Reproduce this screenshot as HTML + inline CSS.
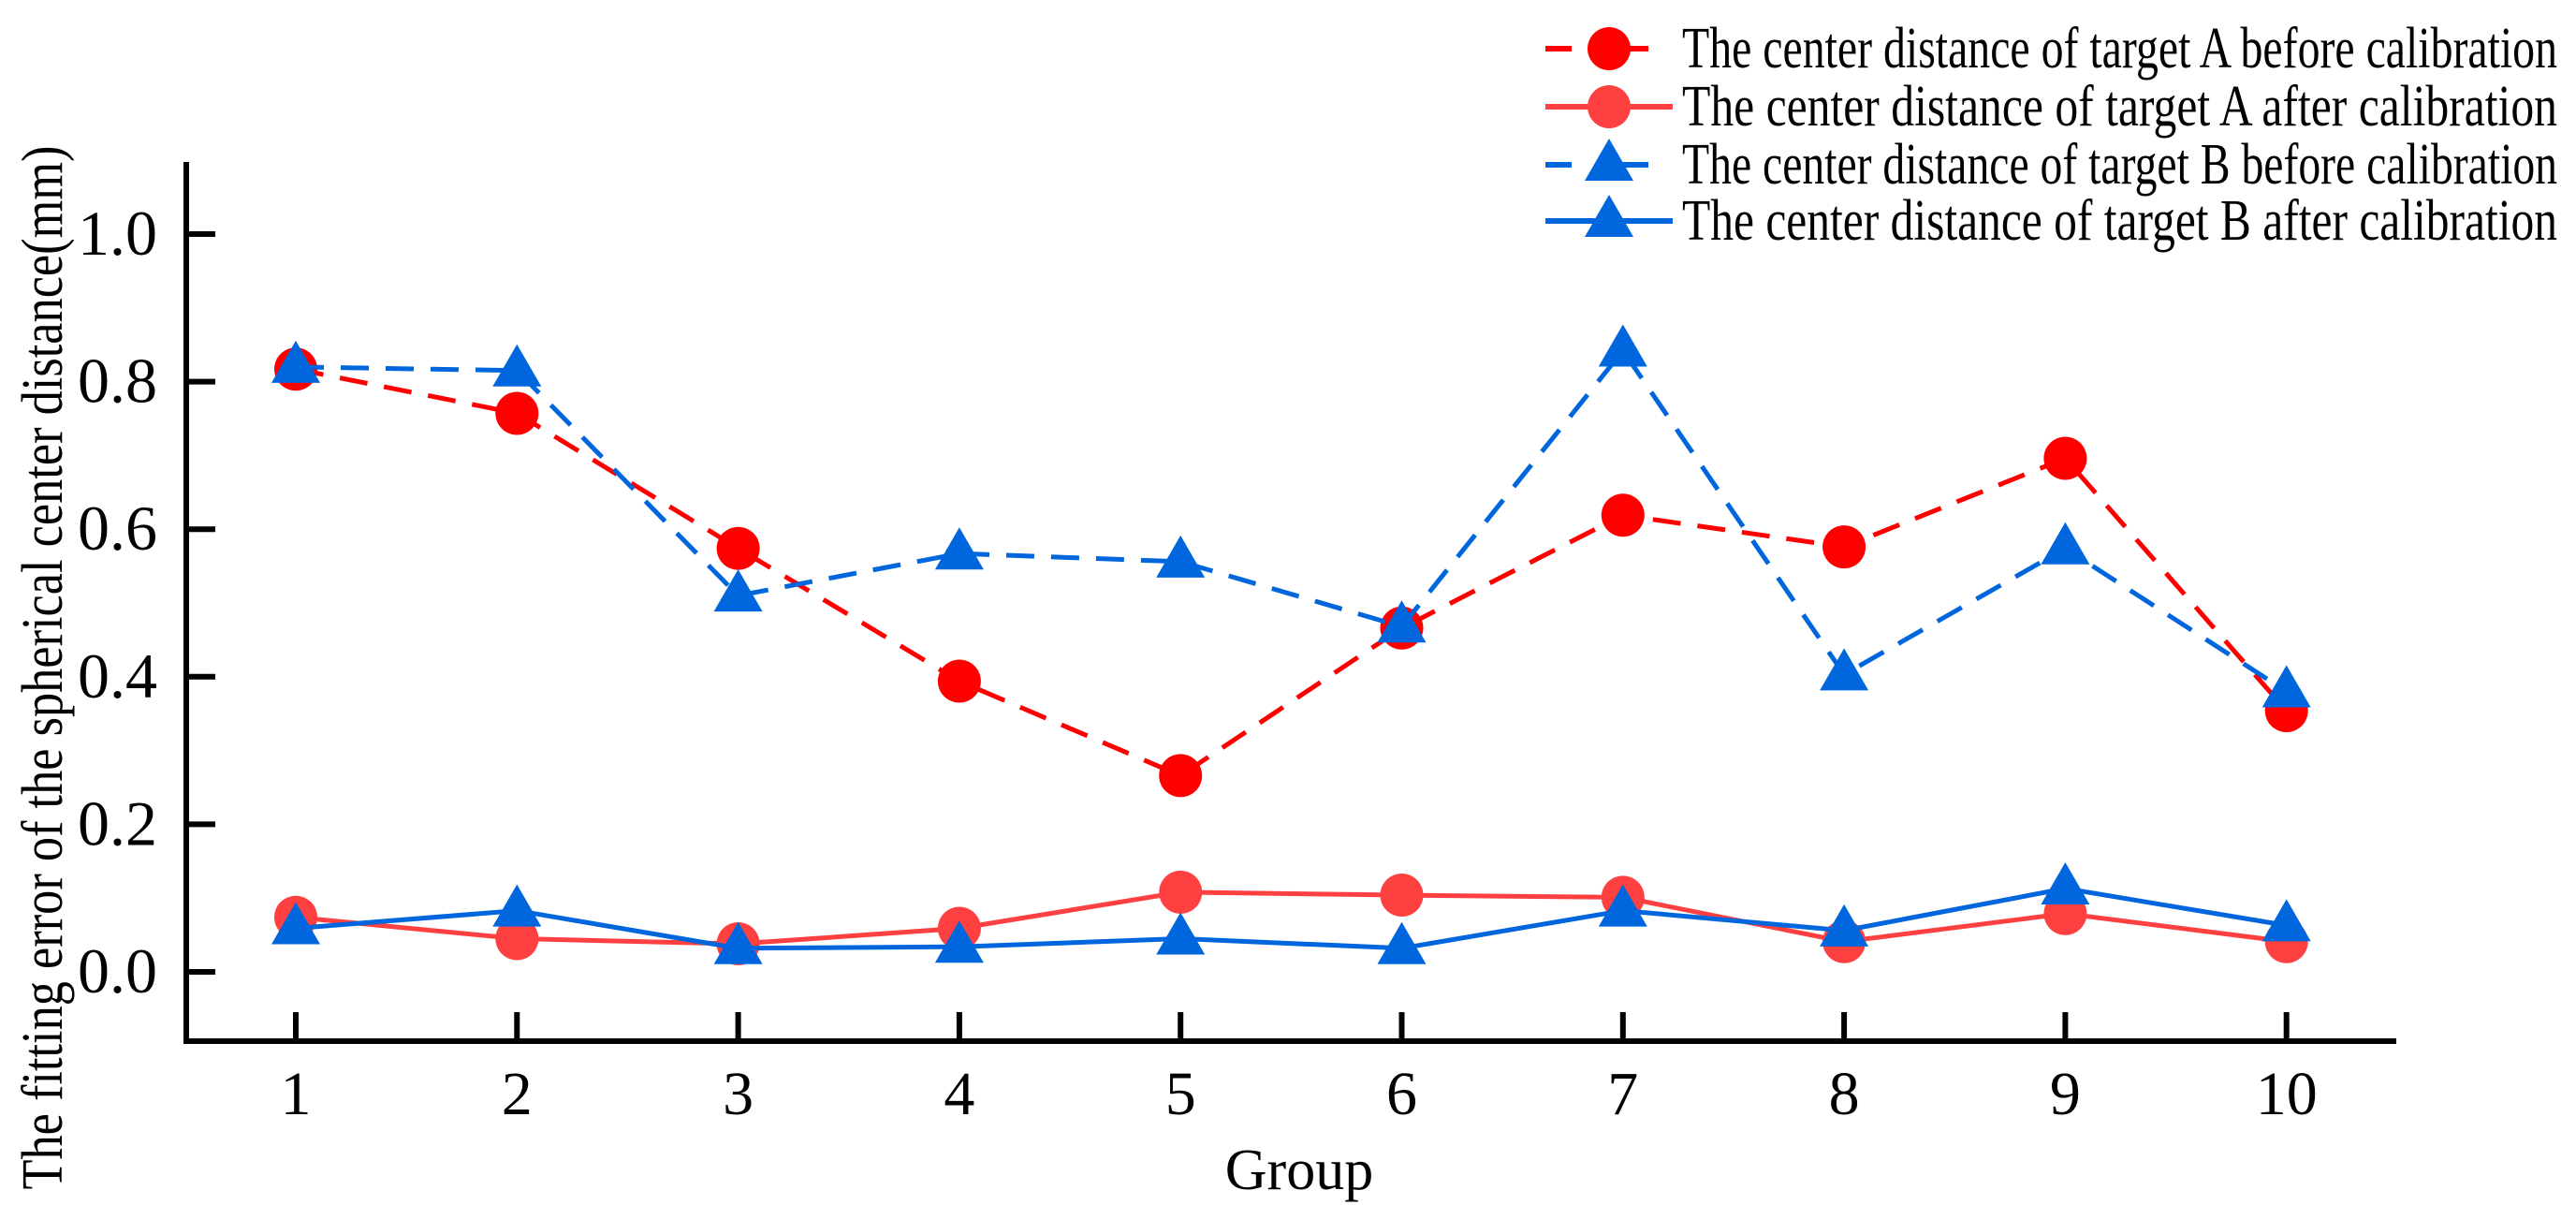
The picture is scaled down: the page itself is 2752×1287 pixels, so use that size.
<!DOCTYPE html>
<html><head><meta charset="utf-8"><style>
html,body{margin:0;padding:0;background:#fff;}
svg{display:block;font-family:"Liberation Serif",serif;}
</style></head><body>
<svg id="chart" width="2752" height="1287" viewBox="0 0 2752 1287" xmlns="http://www.w3.org/2000/svg">
<g id="axes"></g>
<g id="series"></g>
<g id="legend"></g>
<text x="1388" y="1270" font-size="62" text-anchor="middle">Group</text>
<text transform="translate(66,713) rotate(-90)" font-size="62" text-anchor="middle" textLength="1115" lengthAdjust="spacingAndGlyphs">The fitting error of the spherical center distance(mm)</text>
</svg>
<script>
const categories = [1,2,3,4,5,6,7,8,9,10];
const yTicks = [0.0,0.2,0.4,0.6,0.8,1.0];
const yTickLabels = ["0.0","0.2","0.4","0.6","0.8","1.0"];
const aBefore = [0.817,0.757,0.574,0.394,0.266,0.466,0.619,0.576,0.696,0.354];
const aAfter = [0.074,0.045,0.038,0.059,0.108,0.104,0.101,0.041,0.079,0.041];
const bBefore = [0.82,0.815,0.51,0.567,0.556,0.468,0.842,0.403,0.574,0.38];
const bAfter = [0.059,0.083,0.032,0.034,0.045,0.032,0.083,0.056,0.113,0.063];
const seriesNames = ["The center distance of target A before calibration","The center distance of target A after calibration","The center distance of target B before calibration","The center distance of target B after calibration"];

const NS="http://www.w3.org/2000/svg";
function xs(c){return 316+(c-1)*236.3;}
function ys(v){return 1038-v*788;}
function mk(tag,attrs,parent){const e=document.createElementNS(NS,tag);for(const k in attrs)e.setAttribute(k,attrs[k]);parent.appendChild(e);return e;}
const axes=document.getElementById('axes');
let l=mk('path',{d:'M199,173 V1112 H2560',fill:'none',stroke:'#000','stroke-width':6},axes);


yTicks.forEach((t,i)=>{
  const y=ys(t);
  const tk=mk('line',{x1:199,x2:230,y1:y,y2:y,stroke:'#000','stroke-width':6},axes);
  
  
  const tx=mk('text',{x:168,y:y+22,'font-size':68,'text-anchor':'end'},axes);
  tx.textContent=yTickLabels[i];
  
  
});
categories.forEach(c=>{
  const x=xs(c);
  const tk=mk('line',{x1:x,x2:x,y1:1112,y2:1081,stroke:'#000','stroke-width':6},axes);
  
  
  const tx=mk('text',{x:x,y:1190,'font-size':66,'text-anchor':'middle'},axes);
  tx.textContent=String(c);
  
  
});
const ser=document.getElementById('series');
function circle(x,y,color,p){return mk('ellipse',{cx:x,cy:y,rx:23,ry:23,fill:color},p);}
function tri(x,y,color,p){return mk('path',{d:`M${x},${y-28} L${x+26},${y+17} L${x-26},${y+17} Z`,fill:color},p);}
const defs=[
  {d:aBefore,color:'#ff0000',dash:'30 18',m:circle,name:'series-a-before'},
  {d:aAfter,color:'#ff4040',dash:null,m:circle,name:'series-a-after'},
  {d:bBefore,color:'#0066dd',dash:'30 18',m:tri,name:'series-b-before'},
  {d:bAfter,color:'#0066dd',dash:null,m:tri,name:'series-b-after'}
];
defs.forEach(s=>{
  const g=mk('g',{},ser);
  
  
  const pts=s.d.map((v,i)=>xs(categories[i])+','+ys(v)).join(' ');
  const a={points:pts,fill:'none',stroke:s.color,'stroke-width':5};
  if(s.dash)a['stroke-dasharray']=s.dash;
  const pl=mk('polyline',a,g);
  
  
  s.d.forEach((v,i)=>{
    const m=s.m(xs(categories[i]),ys(v),s.color,g);
    
    
  });
});
const leg=document.getElementById('legend');
const rows=[52,114,176,236];
defs.forEach((s,i)=>{
  const y=rows[i];
  const g=mk('g',{},leg);
  
  
  const a={x1:1651,x2:1787,y1:y,y2:y,stroke:s.color,'stroke-width':6};
  if(s.dash)a['stroke-dasharray']='28 54';
  mk('line',a,g);
  s.m(1719,y,s.color,g);
  const t=mk('text',{x:1797,y:y+20,'font-size':62,textLength:935,lengthAdjust:'spacingAndGlyphs'},g);
  t.textContent=seriesNames[i];
  
  
});
</script>
</body></html>
